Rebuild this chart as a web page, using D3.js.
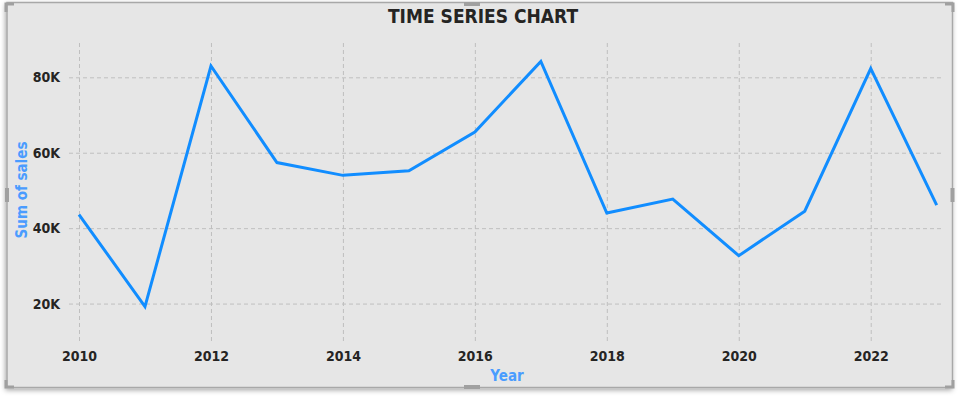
<!DOCTYPE html>
<html>
<head>
<meta charset="utf-8">
<script src="https://cdn.jsdelivr.net/npm/d3@7"></script>
<style>
  html, body { margin: 0; padding: 0; background: #ffffff; }
  svg { display: block; }
</style>
</head>
<body>
<svg id="chart" width="960" height="398"></svg>
<script>
const years = [2010, 2011, 2012, 2013, 2014, 2015, 2016, 2017, 2018, 2019, 2020, 2021, 2022, 2023];
const sales = [43600, 19200, 83000, 57400, 54000, 55200, 65500, 84200, 44000, 47700, 32700, 44500, 82300, 46100];
const yTicks = [20000, 40000, 60000, 80000];
const xTicks = [2010, 2012, 2014, 2016, 2018, 2020, 2022];
const title = "TIME SERIES CHART";
const xTitle = "Year";
const yTitle = "Sum of sales";

const svg = d3.select("#chart");
const font = "'DejaVu Sans Condensed', 'DejaVu Sans', sans-serif";

// shadow & frame
const defs = svg.append("defs");
const f = defs.append("filter").attr("id", "shadow").attr("x", "-5%").attr("y", "-5%").attr("width", "110%").attr("height", "115%");
f.append("feDropShadow").attr("dx", -1).attr("dy", 2).attr("stdDeviation", 2.5).attr("flood-color", "#000").attr("flood-opacity", 0.35);

svg.append("rect").attr("x", 7).attr("y", 2.5).attr("width", 945.5).attr("height", 385)
  .attr("fill", "#e6e6e6").attr("stroke", "#a8a8a8").attr("stroke-width", 1.5)
  .attr("filter", "url(#shadow)");

// corner handles
const hc = "#a0a0a0";
const handles = [
  "M6,12 V4 H14", "M953,380 V387 H945", "M6,380 V387 H14", "M953,12 V4 H945"
];
handles.forEach(d => svg.append("path").attr("d", d).attr("fill", "none").attr("stroke", hc).attr("stroke-width", 3));
svg.append("rect").attr("x", 464).attr("y", 2).attr("width", 16).attr("height", 4).attr("fill", hc);
svg.append("rect").attr("x", 464).attr("y", 385).attr("width", 16).attr("height", 4).attr("fill", hc);
svg.append("rect").attr("x", 5).attr("y", 188).attr("width", 4).attr("height", 14).attr("fill", hc);
svg.append("rect").attr("x", 950.5).attr("y", 188).attr("width", 4).attr("height", 14).attr("fill", hc);

const x = d3.scaleLinear().domain([2010, 2023]).range([79, 936.7]);
const y = d3.scaleLinear().domain([0, 80000]).range([379, 77.3]);

const plotTop = 42, plotBottom = 341, gridLeft = 69, gridRight = 942;

// horizontal grid
const yAxis = d3.axisLeft(y).tickValues(yTicks).tickFormat(d => d3.format("d")(d / 1000) + "K").tickSize(-(gridRight - gridLeft)).tickPadding(9);
const gy = svg.append("g").attr("transform", `translate(${gridLeft},0)`).call(yAxis);
gy.select(".domain").remove();
gy.selectAll(".tick line").attr("stroke", "#bfbfbf").attr("stroke-width", 1).attr("stroke-dasharray", "4,3");
gy.selectAll(".tick text").attr("fill", "#252423").style("font-family", font).style("font-weight", "bold").style("font-size", "14px");

// vertical grid
const xAxis = d3.axisBottom(x).tickValues(xTicks).tickFormat(d3.format("d")).tickSize(-(plotBottom - plotTop)).tickPadding(10);
const gx = svg.append("g").attr("transform", `translate(0,${plotBottom})`).call(xAxis);
gx.select(".domain").remove();
gx.selectAll(".tick line").attr("stroke", "#bfbfbf").attr("stroke-width", 1).attr("stroke-dasharray", "4,3");
gx.selectAll(".tick text").attr("fill", "#252423").style("font-family", font).style("font-weight", "bold").style("font-size", "14px");

// line
const data = years.map((yr, i) => ({ yr, v: sales[i] }));
svg.append("path").datum(data)
  .attr("fill", "none").attr("stroke", "#118DFF").attr("stroke-width", 3)
  .attr("stroke-linejoin", "miter").attr("stroke-linecap", "butt")
  .attr("d", d3.line().x(d => x(d.yr)).y(d => y(d.v)));

// titles
svg.append("text").attr("x", 483).attr("y", 23).attr("text-anchor", "middle")
  .attr("fill", "#252423").style("font-family", font).style("font-weight", "bold").style("font-size", "19px").text(title);
svg.append("text").attr("x", 507).attr("y", 381).attr("text-anchor", "middle")
  .attr("fill", "#4a9cff").style("font-family", font).style("font-weight", "bold").style("font-size", "15px").text(xTitle);
svg.append("text").attr("transform", "translate(27,190) rotate(-90)").attr("text-anchor", "middle")
  .attr("fill", "#4a9cff").style("font-family", font).style("font-weight", "bold").style("font-size", "15px").text(yTitle);
</script>
</body>
</html>
